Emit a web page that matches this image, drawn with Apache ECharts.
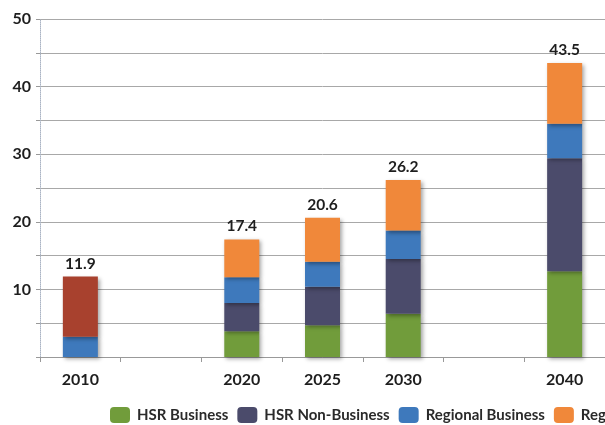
<!DOCTYPE html>
<html>
<head>
<meta charset="utf-8">
<script src="https://cdn.jsdelivr.net/npm/echarts@6/dist/echarts.min.js"></script>
<style>html,body{margin:0;padding:0;background:#fff}#c{width:605px;height:425px}</style>
</head>
<body>
<div id="c"></div>
<script>
const categories = ['2010', '2015', '2020', '2025', '2030', '2035', '2040'];
const categoryLabels = ['2010', '', '2020', '2025', '2030', '', '2040'];
const hsrBusiness = [null, null, 3.8, 4.7, 6.4, null, 12.7];
const hsrNonBusiness = [null, null, 4.2, 5.7, 8.1, null, 16.7];
const regionalBusiness = [3.0, null, 3.8, 3.7, 4.2, null, 5.1];
const regionalNonBusiness = [8.9, null, 5.6, 6.5, 7.5, null, 9.0];
const totals = [11.9, null, 17.4, 20.6, 26.2, null, 43.5];
const seriesNames = ['HSR Business', 'HSR Non-Business', 'Regional Business', 'Regional Non-Business'];
const yTicks = [10, 20, 30, 40, 50];

const colors = ['#719c3b', '#4b4b6b', '#3e79bc', '#f0883a'];
const color2010 = '#a8412e';
const FONT = 'Lato, "Open Sans", sans-serif';

const shadow = {shadowColor: 'rgba(0,0,0,0.35)', shadowBlur: 4, shadowOffsetX: 2, shadowOffsetY: 2};

function mk(name, data, idx) {
  return {
    name: name,
    type: 'bar',
    stack: 'total',
    barWidth: 35,
    data: data.map((v, i) => {
      if (idx === 3 && i === 0) return {value: v, itemStyle: {color: color2010}};
      return v;
    }),
    itemStyle: Object.assign({color: colors[idx]}, shadow),
    label: idx === 3 ? {
      show: true, position: 'top', distance: 5,
      fontFamily: FONT, fontWeight: 'bold', fontSize: 15.5, color: '#1e1e1e',
      formatter: p => totals[p.dataIndex] == null ? '' : totals[p.dataIndex].toFixed(1)
    } : {show: false}
  };
}

const chart = echarts.init(document.getElementById('c'), null, {renderer: 'canvas'});
chart.setOption({
  animation: false,
  grid: {left: 40, top: 19, width: 567, height: 338},
  legend: {
    left: 105, top: 402, width: 900,
    itemWidth: 20, itemHeight: 16, itemGap: 9,
    formatter: name => '{b|' + name + '}',
    textStyle: {
      fontFamily: FONT, fontWeight: 'bold', fontSize: 15, color: '#2a2a2a', padding: [0, 0, 0, 2],
      rich: {b: {fontFamily: FONT, fontWeight: 'bold', fontSize: 15, color: '#2a2a2a'}}
    },
    data: seriesNames
  },
  xAxis: {
    type: 'category',
    data: categories,
    axisLine: {lineStyle: {color: '#999'}},
    axisTick: {show: true, length: 5, lineStyle: {color: '#999'}},
    axisLabel: {
      margin: 15, fontFamily: FONT, fontWeight: 'bold', fontSize: 16, color: '#1e1e1e',
      formatter: (v, i) => categoryLabels[i]
    }
  },
  yAxis: {
    type: 'value',
    min: 0, max: 50, interval: 5,
    axisLine: {show: true, lineStyle: {color: '#aab4c4', type: 'dotted'}},
    axisTick: {show: true, length: 4, lineStyle: {color: '#999'}},
    splitLine: {lineStyle: {color: '#a8a8a8'}},
    axisLabel: {
      margin: 9, fontFamily: FONT, fontWeight: 'bold', fontSize: 16, color: '#1e1e1e',
      formatter: v => yTicks.includes(v) ? String(v) : ''
    }
  },
  series: [
    mk(seriesNames[0], hsrBusiness, 0),
    mk(seriesNames[1], hsrNonBusiness, 1),
    mk(seriesNames[2], regionalBusiness, 2),
    mk(seriesNames[3], regionalNonBusiness, 3)
  ]
});
</script>
</body>
</html>
